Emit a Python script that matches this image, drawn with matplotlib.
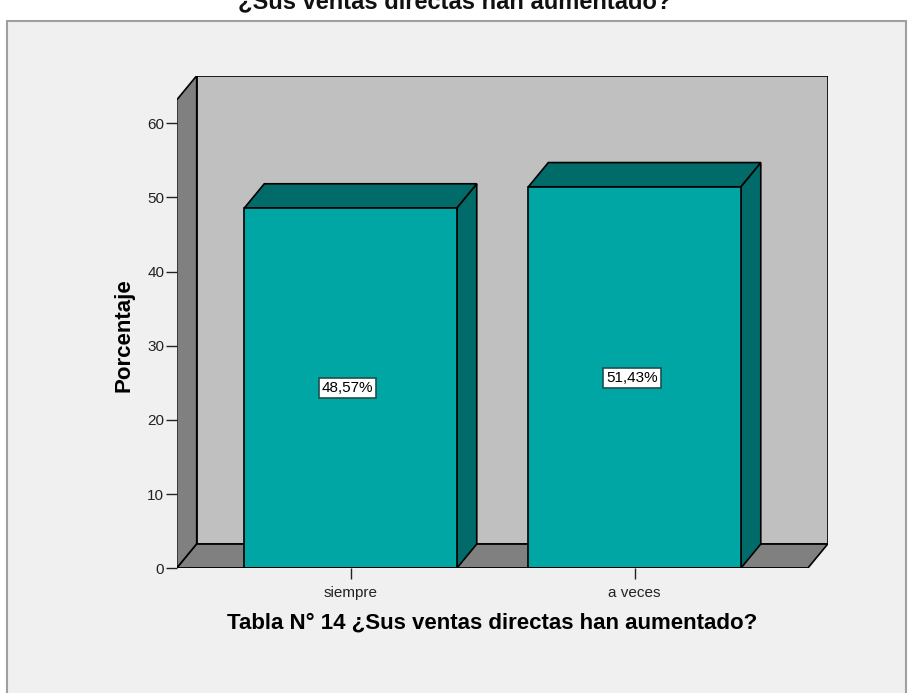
import matplotlib
matplotlib.use("Agg")
import matplotlib.pyplot as plt
from matplotlib.patches import Rectangle, Polygon

# datos
categorias = ["siempre", "a veces"]
porcentajes = [48.57, 51.43]
etiquetas = ["48,57%", "51,43%"]
yticks = [0, 10, 20, 30, 40, 50, 60]

titulo = "¿Sus ventas directas han aumentado?"
xlabel = "Tabla N° 14 ¿Sus ventas directas han aumentado?"
ylabel = "Porcentaje"

# colores estilo SPSS
c_frente = "#00A6A3"
c_oscuro = "#006B68"
c_pared = "#C0C0C0"
c_lado = "#808080"
c_fondo = "#F0F0F0"

plt.rcParams["font.family"] = ["Liberation Sans", "DejaVu Sans"]

W, H = 911, 693
fig = plt.figure(figsize=(W / 100, H / 100), dpi=100, facecolor="white")

# marco gris del grafico (sigue por debajo del borde inferior)
fig.patches.append(Rectangle((7 / W, -10 / H), 899 / W, (H - 11) / H, transform=fig.transFigure,
                             facecolor=c_fondo, edgecolor="#A0A0A0", lw=1.5, zorder=-5))

fig.text(455 / W, 1 - 8 / H, titulo, ha="center", va="baseline",
         fontsize=17, fontweight="bold", color="#111111")

# ejes: frente izq. en x=176.7px, base en y=568.3px
ax = fig.add_axes([176.7 / W, (H - 568.3) / H, 651 / W, 492.6 / H])
ax.set_zorder(2)
ax.set_facecolor("none")
x0, x1 = -0.612, 1.680
ytop_total = 66.41
dx, dy = 0.0704, 3.27          # profundidad del efecto 3D
xf = x1 - dx                    # borde derecho del piso (frente)
ymax = ytop_total - dy
ax.set_xlim(x0, x1)
ax.set_ylim(0, ytop_total)
for s in ax.spines.values():
    s.set_visible(False)

ec = dict(edgecolor="black", lw=1.2, joinstyle="miter")
# pared de fondo, pared izquierda y piso
ax.add_patch(Polygon([(x0 + dx, dy), (x1, dy), (x1, ytop_total), (x0 + dx, ytop_total)],
                     facecolor=c_pared, **ec))
ax.add_patch(Polygon([(x0, 0), (x0 + dx, dy), (x0 + dx, ytop_total), (x0, ymax)],
                     facecolor=c_lado, **ec))
ax.add_patch(Polygon([(x0, 0), (xf, 0), (x1, dy), (x0 + dx, dy)],
                     facecolor=c_lado, **ec))

ancho = 0.748
for i, (v, txt) in enumerate(zip(porcentajes, etiquetas)):
    a, b = i - ancho / 2, i + ancho / 2
    ax.add_patch(Polygon([(b, 0), (b + dx, dy), (b + dx, v + dy), (b, v)],
                         facecolor=c_oscuro, **ec))
    ax.add_patch(Polygon([(a, v), (b, v), (b + dx, v + dy), (a + dx, v + dy)],
                         facecolor=c_oscuro, **ec))
    ax.add_patch(Rectangle((a, 0), ancho, v, facecolor=c_frente, **ec))
    ax.text(i - 0.01, v / 2, txt, ha="center", va="center", fontsize=11, color="black",
            bbox=dict(boxstyle="square,pad=0.2", facecolor="white",
                      edgecolor="#1f4f4f", lw=1.2))

ax.plot([x0, xf], [0, 0], color="black", lw=1.2, solid_capstyle="butt", zorder=5)

ax.set_yticks(yticks)
ax.set_yticklabels([str(t) for t in yticks])
ax.set_xticks(range(len(categorias)))
ax.set_xticklabels(categorias)
ax.tick_params(axis="y", direction="out", length=8, width=1, pad=1,
               labelsize=11, colors="#222222")
ax.tick_params(axis="x", direction="out", length=8, width=1, pad=5,
               labelsize=11, colors="#222222")

fig.text(124 / W, 1 - 335 / H, ylabel, rotation=90, ha="center", va="center",
         fontsize=16, fontweight="bold", color="black")
fig.text(492 / W, 1 - 629 / H, xlabel, ha="center", va="baseline",
         fontsize=16, fontweight="bold", color="black")

fig.savefig("out.png", dpi=100, facecolor="white")
